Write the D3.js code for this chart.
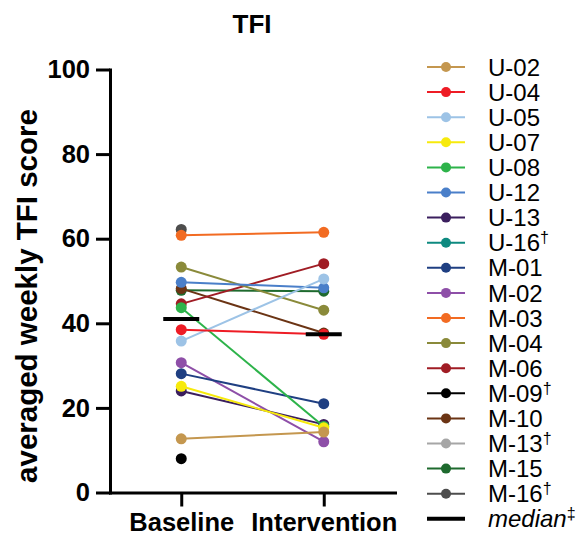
<!DOCTYPE html>
<html>
<head>
<style>
  body { margin: 0; background: #fff; }
  svg text { font-family: "Liberation Sans", Arial, sans-serif; fill: #000; }
  .axis path, .axis line { stroke: #000; stroke-width: 3px; }
  .axis text { font-size: 25.5px; font-weight: bold; }
</style>
</head>
<body>
<svg id="chart" width="579" height="540"></svg>
<script src="https://d3js.org/d3.v7.min.js"></script>
<script>
// data
var subjects = ["U-02","U-04","U-05","U-07","U-08","U-12","U-13","U-16","M-01","M-02","M-03","M-04","M-06","M-09","M-10","M-13","M-15","M-16"];
var marks    = ["","","","","","","","\u2020","","","","","","\u2020","","\u2020","","\u2020"];
var colors   = ["#c4974f","#ee1c25","#9dc3e6","#f7ea0c","#2db34a","#4a7fc9","#3b1f5e","#0e8a80","#1f3f82","#8e4fa8","#f26b22","#8a8a3a","#a01c24","#000000","#6b3414","#a6a6a6","#1e6a2e","#4d4d4d"];
var baseline     = [12.7, 38.5, 35.8, 25.1, 43.7, 49.7, 24.0, null, 28.1, 30.7, 60.8, 53.3, 44.6, 8.0, 48.2, null, 47.8, 62.2];
var intervention = [14.3, 37.4, 50.5, 15.3, 15.6, 48.4, 16.1, null, 21.0, 12.0, 61.5, 43.1, 54.1, null, 37.7, null, 47.6, null];
var groups  = ["Baseline","Intervention"];
var medians = [41.0, 37.4];
var yTicks  = [0, 20, 40, 60, 80, 100];

var svg = d3.select("#chart");

var x = d3.scalePoint().domain(groups).range([110, 395]).padding(0.5);
var y = d3.scaleLinear().domain([0, 100]).range([492.5, 69.5]);

// title
svg.append("text")
  .attr("x", 252).attr("y", 33)
  .attr("text-anchor", "middle")
  .style("font-size", "26px").style("font-weight", "bold")
  .text("TFI");

// y label
svg.append("text")
  .attr("transform", "translate(37,296) rotate(-90)")
  .attr("text-anchor", "middle")
  .style("font-size", "29.5px").style("font-weight", "bold")
  .text("averaged weekly TFI score");

// axes
svg.append("g").attr("class", "axis")
  .attr("transform", "translate(110,0)")
  .call(d3.axisLeft(y).tickValues(yTicks).tickSize(14).tickSizeOuter(0).tickPadding(6))
  .call(function(g){ g.selectAll("path").attr("stroke-linecap","square"); });

svg.append("g").attr("class", "axis")
  .attr("transform", "translate(0,492.5)")
  .call(d3.axisBottom(x).tickSize(14).tickSizeOuter(0).tickPadding(6))
  .call(function(g){ g.selectAll("path").attr("stroke-linecap","square"); });

// rows, drawn last-to-first so earlier subjects sit on top
var rows = subjects.map(function(s, i){
  return { name: s, color: colors[i], vals: [baseline[i], intervention[i]] };
}).reverse();

var plot = svg.append("g");

rows.forEach(function(r){
  var g = plot.append("g");
  if (r.vals[0] != null && r.vals[1] != null) {
    g.append("line")
      .attr("x1", x(groups[0])).attr("y1", y(r.vals[0]))
      .attr("x2", x(groups[1])).attr("y2", y(r.vals[1]))
      .attr("stroke", r.color).attr("stroke-width", 2);
  }
  g.selectAll("circle")
    .data(r.vals.map(function(v, j){ return {v: v, g: groups[j]}; }).filter(function(d){ return d.v != null; }))
    .enter().append("circle")
    .attr("cx", function(d){ return x(d.g); })
    .attr("cy", function(d){ return y(d.v); })
    .attr("r", 5.5)
    .attr("fill", r.color);
});

// medians
plot.selectAll(".median")
  .data(medians)
  .enter().append("line")
  .attr("class", "median")
  .attr("x1", function(d, i){ return x(groups[i]) - 18; })
  .attr("x2", function(d, i){ return x(groups[i]) + 18; })
  .attr("y1", function(d){ return y(d); })
  .attr("y2", function(d){ return y(d); })
  .attr("stroke", "#000").attr("stroke-width", 4);

// legend
var leg = svg.append("g").attr("transform", "translate(427,67)");
var item = leg.selectAll(".item")
  .data(subjects)
  .enter().append("g")
  .attr("class", "item")
  .attr("transform", function(d, i){ return "translate(0," + (i * 25.1) + ")"; });

item.append("line")
  .attr("x1", 0).attr("x2", 38)
  .attr("stroke", function(d, i){ return colors[i]; })
  .attr("stroke-width", 2);
item.append("circle")
  .attr("cx", 19).attr("r", 5)
  .attr("fill", function(d, i){ return colors[i]; });

var lt = item.append("text")
  .attr("x", 61).attr("dy", "0.36em")
  .style("font-size", "24px");
lt.append("tspan").text(function(d){ return d; });
lt.append("tspan")
  .attr("dy", "-0.5em")
  .style("font-size", "16px")
  .text(function(d, i){ return marks[i]; });

var med = leg.append("g").attr("transform", "translate(0," + (subjects.length * 25.1) + ")");
med.append("line").attr("x1", 0).attr("x2", 38)
  .attr("stroke", "#000").attr("stroke-width", 4);
var mt = med.append("text").attr("x", 61).attr("dy", "0.36em")
  .style("font-size", "24px").style("font-style", "italic");
mt.append("tspan").text("median");
mt.append("tspan").attr("dy", "-0.5em").style("font-size", "16px").style("font-style", "normal").text("\u2021");
</script>
</body>
</html>
